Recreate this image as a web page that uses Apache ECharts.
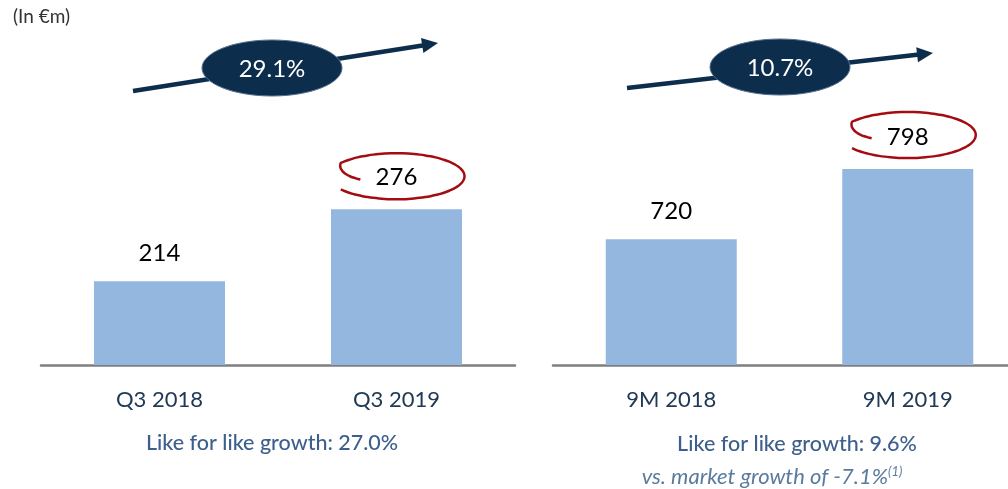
<!DOCTYPE html>
<html>
<head>
<meta charset="utf-8">
<script src="https://cdn.jsdelivr.net/npm/echarts@6/dist/echarts.min.js"></script>
<style>
  html, body { margin: 0; padding: 0; background: #fff; }
  #chart { width: 1008px; height: 489px; }
</style>
</head>
<body>
<div id="chart"></div>
<script>
// data
const quarterCats = ['Q3 2018', 'Q3 2019'];
const quarterValues = [214, 276];
const ytdCats = ['9M 2018', '9M 2019'];
const ytdValues = [720, 798];
const growthLabels = ['29.1%', '10.7%'];
const lflLabels = ['Like for like growth: 27.0%', 'Like for like growth: 9.6%'];
const marketNote = 'vs. market growth of -7.1%';
const unitLabel = '(In €m)';

const FONT = 'Lato, "Noto Sans", sans-serif';
const NAVY = '#0c2e4c';
const BAR = '#93b7df';
const RED = '#a30d12';

function barData(values) {
    return values.map((v, i) => ({
        value: v,
        label: { distance: i === values.length - 1 ? 20 : 16 }
    }));
}

const axisX = (gridIndex, cats) => ({
    type: 'category',
    gridIndex: gridIndex,
    data: cats,
    axisTick: { show: false },
    axisLine: { lineStyle: { color: '#7f7f7f', width: 2.5 } },
    axisLabel: { color: '#203a56', fontSize: 22, fontFamily: FONT, margin: 24 }
});

const chart = echarts.init(document.getElementById('chart'));
chart.setOption({
    animation: false,
    backgroundColor: '#fff',
    grid: [
        { left: 41, width: 474, top: 0, bottom: 124, outerBoundsMode: 'none' },
        { left: 553, width: 473, top: 0, bottom: 124, outerBoundsMode: 'none' }
    ],
    xAxis: [axisX(0, quarterCats), axisX(1, ytdCats)],
    yAxis: [
        { type: 'value', gridIndex: 0, show: false, min: 142, max: 456 },
        { type: 'value', gridIndex: 1, show: false, min: 580, max: 986 }
    ],
    series: [
        {
            type: 'bar', xAxisIndex: 0, yAxisIndex: 0, barWidth: 131,
            data: barData(quarterValues),
            itemStyle: { color: BAR },
            label: { show: true, position: 'top', color: '#000', fontSize: 24, fontFamily: FONT }
        },
        {
            type: 'bar', xAxisIndex: 1, yAxisIndex: 1, barWidth: 131,
            data: barData(ytdValues),
            itemStyle: { color: BAR },
            label: { show: true, position: 'top', color: '#000', fontSize: 24, fontFamily: FONT }
        }
    ]
});

// growth arrow with the navy bubble
function growthArrow(x1, y1, x2, y2, cx, cy, text) {
    const dx = x2 - x1, dy = y2 - y1;
    const len = Math.sqrt(dx * dx + dy * dy);
    const ux = dx / len, uy = dy / len;
    const hl = 16, hw = 7.5;
    const bx = x2 - ux * hl, by = y2 - uy * hl;
    return [
        { type: 'line', z: 10, shape: { x1: x1, y1: y1, x2: bx + ux * 2, y2: by + uy * 2 },
          style: { stroke: NAVY, lineWidth: 4.5 } },
        { type: 'polygon', z: 10, shape: { points: [[x2, y2], [bx - uy * hw, by + ux * hw], [bx + uy * hw, by - ux * hw]] },
          style: { fill: NAVY } },
        { type: 'ellipse', z: 11, shape: { cx: cx, cy: cy, rx: 70, ry: 28 },
          style: { fill: NAVY, stroke: '#54708f', lineWidth: 1 } },
        { type: 'text', z: 12, x: cx, y: cy + 1,
          style: { text: text, fill: '#fff', fontSize: 24, fontFamily: FONT, align: 'center', verticalAlign: 'middle' } }
    ];
}

// hand drawn red loop around the latest figure
function redLoop(cx, cy) {
    const pts = [];
    for (let a = 165; a <= 505; a += 5) {
        const s = a < 215 ? 0.55 + 0.45 * (a - 165) / 50 : 1;
        const t = a * Math.PI / 180;
        pts.push([cx + 68 * s * Math.cos(t), cy + 23 * s * Math.sin(t)]);
    }
    return { type: 'polyline', z: 9, shape: { points: pts, smooth: 0.3 },
             style: { stroke: RED, lineWidth: 2.5, fill: null } };
}

const p1 = chart.convertToPixel({ seriesIndex: 0 }, [1, quarterValues[1]]);
const p2 = chart.convertToPixel({ seriesIndex: 1 }, [1, ytdValues[1]]);

const graphics = []
    .concat(growthArrow(133, 91, 438, 43, 272, 68, growthLabels[0]))
    .concat(growthArrow(627, 88, 933, 53, 780, 67, growthLabels[1]));
graphics.push(redLoop(p1[0], p1[1] - 33));
graphics.push(redLoop(p2[0], p2[1] - 34));
graphics.push(
    { type: 'text', x: 13, y: 17,
      style: { text: unitLabel, fill: '#333', fontSize: 19, fontFamily: FONT, align: 'left', verticalAlign: 'middle' } },
    { type: 'text', x: 272, y: 443,
      style: { text: lflLabels[0], fill: '#3d5f8c', fontSize: 21.5, fontWeight: 500, fontFamily: FONT, align: 'center', verticalAlign: 'middle' } },
    { type: 'text', x: 797, y: 444,
      style: { text: lflLabels[1], fill: '#3d5f8c', fontSize: 21.5, fontWeight: 500, fontFamily: FONT, align: 'center', verticalAlign: 'middle' } },
    { type: 'text', x: 772, y: 477,
      style: { text: marketNote + '{sup|(1)}', fill: '#5b7b9e', fontSize: 22, fontStyle: 'italic', fontFamily: FONT,
               align: 'center', verticalAlign: 'middle',
               rich: { sup: { fontSize: 13, fontStyle: 'italic', fill: '#5b7b9e', fontFamily: FONT, verticalAlign: 'top', padding: [0, 0, 10, 0] } } } }
);
chart.setOption({ graphic: graphics });
</script>
</body>
</html>
